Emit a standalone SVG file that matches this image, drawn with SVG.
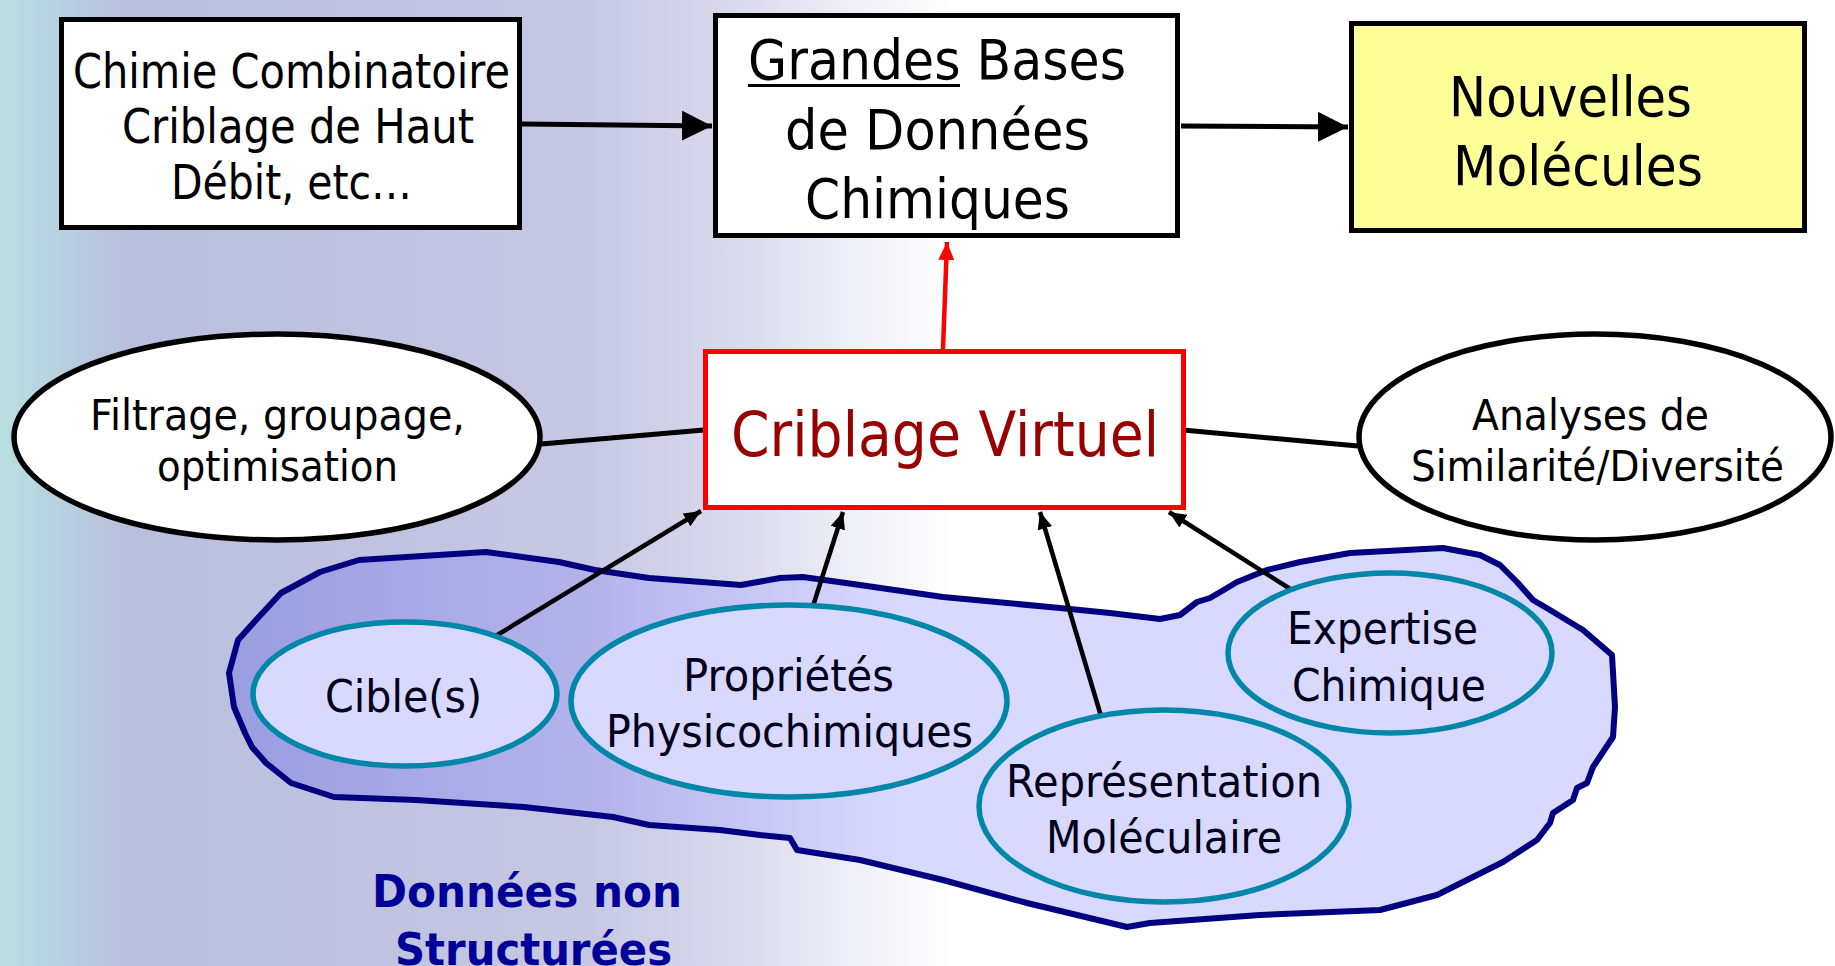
<svg xmlns="http://www.w3.org/2000/svg" width="1835" height="966" viewBox="0 0 1835 966">
  <defs>
    <linearGradient id="bg" gradientUnits="userSpaceOnUse" x1="0" y1="0" x2="1835" y2="0">
      <stop offset="0" stop-color="#B9DFE1"/>
      <stop offset="0.07" stop-color="#B8BFDD"/>
      <stop offset="0.32" stop-color="#C6C7E3"/>
      <stop offset="0.41" stop-color="#DCDCEE"/>
      <stop offset="0.48" stop-color="#F4F4F9"/>
      <stop offset="0.52" stop-color="#FFFFFF"/>
    </linearGradient>
    <linearGradient id="blobFill" gradientUnits="userSpaceOnUse" x1="230" y1="0" x2="900" y2="0">
      <stop offset="0" stop-color="#9A9DDF"/>
      <stop offset="0.55" stop-color="#B4B4EC"/>
      <stop offset="1" stop-color="#D9D9FF"/>
    </linearGradient>
    <marker id="bigHead" markerUnits="userSpaceOnUse" viewBox="0 0 30 30" markerWidth="30" markerHeight="30" refX="30" refY="15" orient="auto">
      <path d="M0,0 L30,15 L0,30 Z" fill="#000"/>
    </marker>
    <marker id="smallHead" markerUnits="userSpaceOnUse" viewBox="0 0 17 15" markerWidth="17" markerHeight="15" refX="17" refY="7.5" orient="auto">
      <path d="M0,0 L17,7.5 L0,15 Z" fill="#000"/>
    </marker>
    <marker id="redHead" markerUnits="userSpaceOnUse" viewBox="0 0 18 16" markerWidth="18" markerHeight="16" refX="18" refY="8" orient="auto">
      <path d="M0,0 L18,8 L0,16 Z" fill="#FF0000"/>
    </marker>
  </defs>
  <style>
    text { font-family: "DejaVu Sans", "Liberation Sans", sans-serif; }
    .box { fill: #FFFFFF; stroke: #000000; stroke-width: 5; }
    .oval { fill: #FFFFFF; stroke: #000000; stroke-width: 5.5; }
    .inner { fill: #D9D9FF; stroke: #0086A8; stroke-width: 5.5; }
    .t48 { font-size: 48px; fill: #000; }
    .t56 { font-size: 56px; fill: #000; }
    .t42 { font-size: 42px; fill: #000; }
    .t45 { font-size: 45px; fill: #00001A; }
    .thick { stroke: #000; stroke-width: 5; fill: none; }
    .link { stroke: #000; stroke-width: 5; fill: none; }
    .thin { stroke: #000; stroke-width: 4.5; fill: none; }
  </style>

  <rect x="0" y="0" width="1835" height="966" fill="url(#bg)"/>

  <!-- unstructured data cloud -->
  <g id="cloud">
    <path d="M238,640 L256,620 L281,593 L320,572 L359,560 L486,552 L559,562 L595,570 L649,578 L741,585 L780,578 L803,577 L860,585 L943,597 L1060,608 L1110,613 L1160,619 L1180,615 L1197,602 L1210,598 L1227,588 L1237,582 L1267,570 L1300,562 L1350,553 L1443,548 L1480,555 L1500,565 L1517,582 L1533,600 L1550,610 L1583,630 L1612,655 L1615,707 L1613,737 L1593,767 L1587,783 L1577,788 L1573,800 L1553,813 L1550,823 L1537,840 L1503,862 L1437,895 L1380,910 L1260,915 L1150,923 L1127,927 L1027,903 L943,880 L860,860 L797,850 L790,838 L760,835 L720,830 L649,825 L613,817 L524,807 L416,800 L334,797 L291,783 L266,763 L252,747 L245,733 L234,707 L229,673 Z" fill="url(#blobFill)" stroke="#000080" stroke-width="6" stroke-linejoin="round"/>
    <text x="372" y="907" textLength="310" lengthAdjust="spacingAndGlyphs" font-size="44" font-weight="bold" fill="#000099">Données non</text>
    <text x="395" y="965" textLength="277" lengthAdjust="spacingAndGlyphs" font-size="44" font-weight="bold" fill="#000099">Structurées</text>
  </g>

  <!-- connectors -->
  <g id="connectors">
    <line class="thick" x1="522" y1="124" x2="712" y2="126" marker-end="url(#bigHead)"/>
    <line class="thick" x1="1181" y1="126" x2="1348" y2="127" marker-end="url(#bigHead)"/>
    <line x1="943" y1="349" x2="947" y2="242" stroke="#FF0000" stroke-width="4.5" marker-end="url(#redHead)"/>
    <line class="link" x1="541" y1="444" x2="704" y2="430"/>
    <line class="link" x1="1183" y1="430" x2="1358" y2="446"/>
    <line class="thin" x1="494" y1="637" x2="701" y2="511" marker-end="url(#smallHead)"/>
    <line class="thin" x1="813" y1="606" x2="843" y2="512" marker-end="url(#smallHead)"/>
    <line class="thin" x1="1101" y1="716" x2="1040" y2="512" marker-end="url(#smallHead)"/>
    <line class="thin" x1="1292" y1="590" x2="1169" y2="512" marker-end="url(#smallHead)"/>
  </g>

  <g id="sources">
    <rect class="box" x="61.5" y="19.5" width="458" height="208"/>
    <text class="t48" x="73" y="88" textLength="437" lengthAdjust="spacingAndGlyphs">Chimie Combinatoire</text>
    <text class="t48" x="122" y="143" textLength="352" lengthAdjust="spacingAndGlyphs">Criblage de Haut</text>
    <text class="t48" x="171" y="199" textLength="241" lengthAdjust="spacingAndGlyphs">Débit, etc…</text>
  </g>

  <g id="databases">
    <rect class="box" x="715.5" y="15.5" width="462" height="220"/>
    <text class="t56" x="748" y="79" textLength="378" lengthAdjust="spacingAndGlyphs">Grandes Bases</text>
    <line x1="748" y1="85.5" x2="960" y2="85.5" stroke="#000" stroke-width="3"/>
    <text class="t56" x="785" y="149" textLength="305" lengthAdjust="spacingAndGlyphs">de Données</text>
    <text class="t56" x="805" y="218" textLength="265" lengthAdjust="spacingAndGlyphs">Chimiques</text>
  </g>

  <g id="new-molecules">
    <rect class="box" x="1351.5" y="23.5" width="453" height="207" style="fill:#FFFF99"/>
    <text class="t56" x="1449" y="116" textLength="243" lengthAdjust="spacingAndGlyphs">Nouvelles</text>
    <text class="t56" x="1453" y="185" textLength="250" lengthAdjust="spacingAndGlyphs">Molécules</text>
  </g>

  <g id="virtual-screening">
    <rect x="705.5" y="351.5" width="478" height="156" fill="#FFFFFF" stroke="#FF0000" stroke-width="5"/>
    <text x="731" y="456" font-size="62" fill="#990000" textLength="428" lengthAdjust="spacingAndGlyphs">Criblage Virtuel</text>
  </g>

  <g id="filtering">
    <ellipse class="oval" cx="277" cy="437" rx="263" ry="103"/>
    <text class="t42" x="90" y="430" textLength="375" lengthAdjust="spacingAndGlyphs">Filtrage, groupage,</text>
    <text class="t42" x="157" y="481" textLength="241" lengthAdjust="spacingAndGlyphs">optimisation</text>
  </g>

  <g id="similarity">
    <ellipse class="oval" cx="1595" cy="437" rx="236" ry="103"/>
    <text class="t42" x="1472" y="430" textLength="237" lengthAdjust="spacingAndGlyphs">Analyses de</text>
    <text class="t42" x="1411" y="481" textLength="373" lengthAdjust="spacingAndGlyphs">Similarité/Diversité</text>
  </g>

  <g id="targets">
    <ellipse class="inner" cx="405" cy="694" rx="152" ry="72"/>
    <text class="t45" x="325" y="712" textLength="157" lengthAdjust="spacingAndGlyphs">Cible(s)</text>
  </g>

  <g id="properties">
    <ellipse class="inner" cx="789" cy="701" rx="218" ry="96"/>
    <text class="t45" x="683" y="691" textLength="211" lengthAdjust="spacingAndGlyphs">Propriétés</text>
    <text class="t45" x="606" y="747" textLength="367" lengthAdjust="spacingAndGlyphs">Physicochimiques</text>
  </g>

  <g id="representation">
    <ellipse class="inner" cx="1164" cy="806" rx="185" ry="96"/>
    <text class="t45" x="1006" y="797" textLength="316" lengthAdjust="spacingAndGlyphs">Représentation</text>
    <text class="t45" x="1046" y="853" textLength="236" lengthAdjust="spacingAndGlyphs">Moléculaire</text>
  </g>

  <g id="expertise">
    <ellipse class="inner" cx="1390" cy="653" rx="162" ry="80"/>
    <text class="t45" x="1287" y="644" textLength="191" lengthAdjust="spacingAndGlyphs">Expertise</text>
    <text class="t45" x="1292" y="701" textLength="194" lengthAdjust="spacingAndGlyphs">Chimique</text>
  </g>
</svg>
